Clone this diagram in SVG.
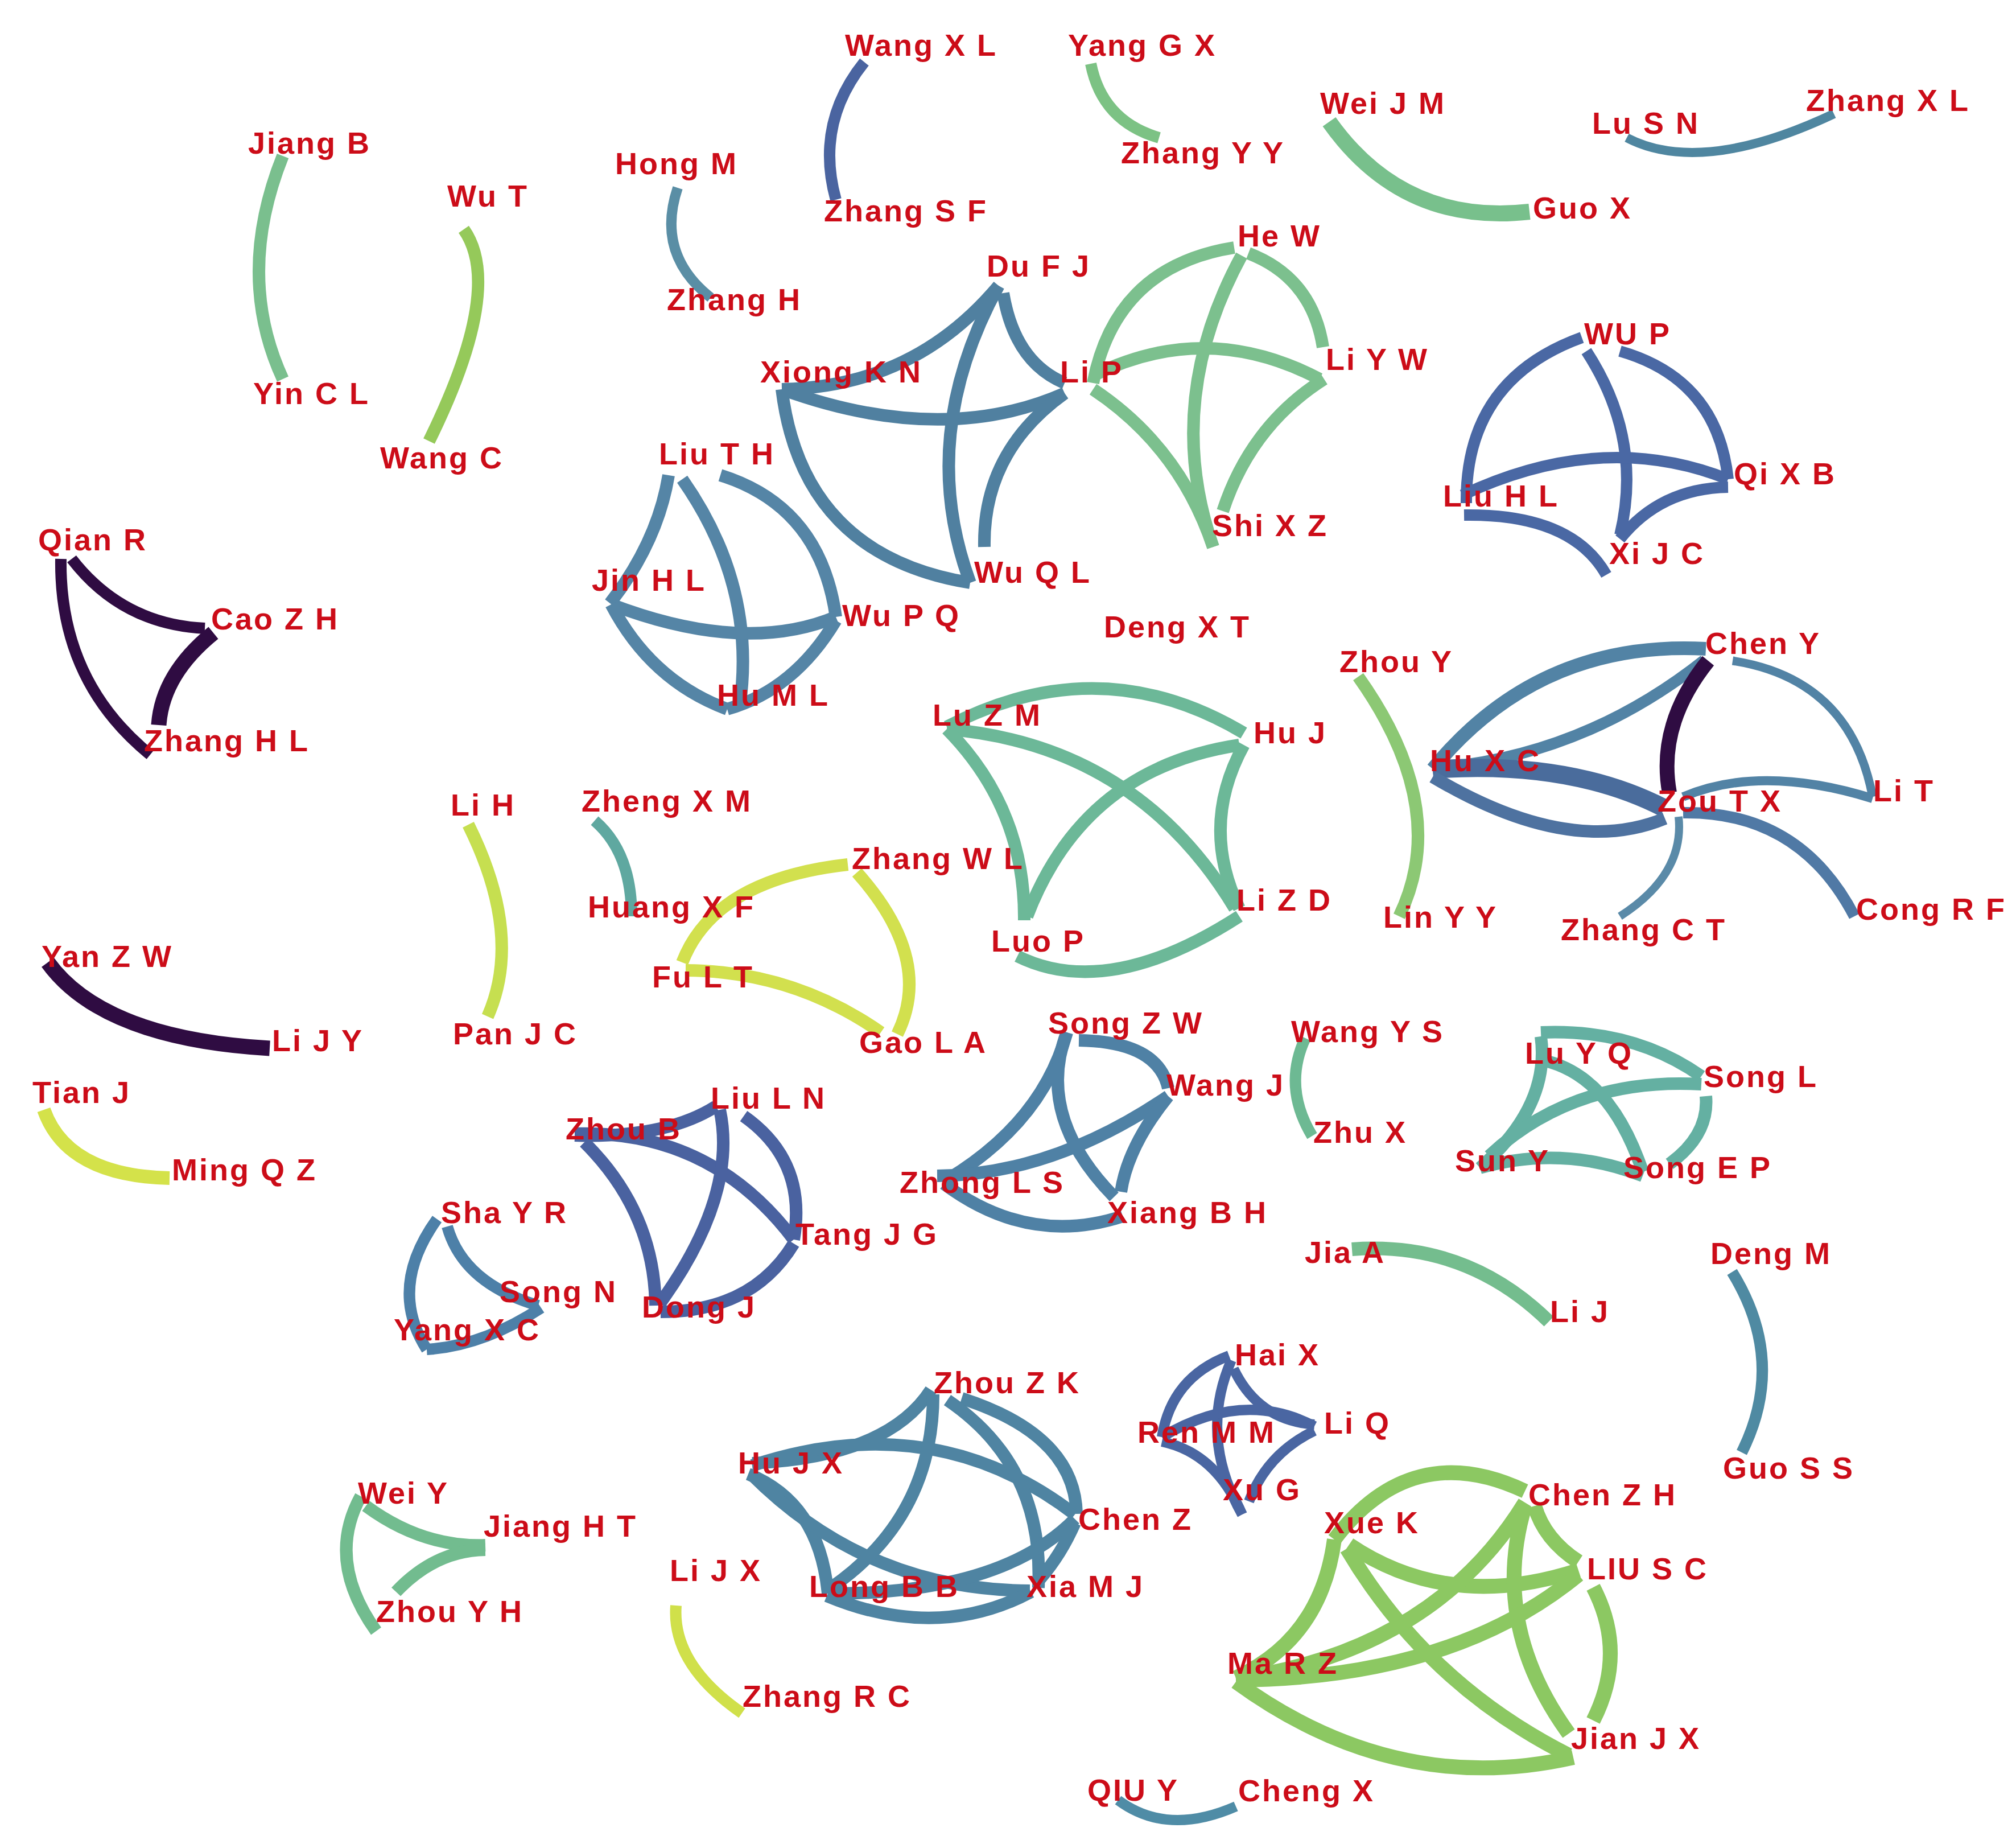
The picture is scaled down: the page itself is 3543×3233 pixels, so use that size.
<svg xmlns="http://www.w3.org/2000/svg" width="3543" height="3233" viewBox="0 0 3543 3233">
<style>
.e path{fill:none;stroke-linecap:butt;stroke-width:22}
.t{font-family:"Liberation Sans",Arial,sans-serif;font-weight:bold;font-size:54px;fill:#cc0c18;letter-spacing:3px}
</style>
<rect width="3543" height="3233" fill="#ffffff"/>
<g id="edges" class="e">
 <g stroke="#7abf8e"><path d="M497,274 Q413,484 497,666"/></g>
 <g stroke="#95c95a"><path d="M815,403 Q887,505 754,775"/></g>
 <g stroke="#5a8ea5"><path d="M1191,330 Q1152,446 1249,523" style="stroke-width:18"/></g>
 <g stroke="#4a64a0"><path d="M1519,109 Q1432,217 1469,351" style="stroke-width:20"/></g>
 <g stroke="#7cc284"><path d="M1917,112 Q1937,213 2037,242" style="stroke-width:20"/></g>
 <g stroke="#78c08c"><path d="M2336,214 Q2466,397 2688,372" style="stroke-width:28"/></g>
 <g stroke="#4f86a0"><path d="M2859,242 Q2990,310 3223,200" style="stroke-width:16"/></g>
 <g stroke="#2f0c42">
  <path d="M126,982 Q215,1097 360,1104" style="stroke-width:20"/>
  <path d="M107,982 Q104,1196 264,1326" style="stroke-width:20"/>
  <path d="M375,1112 Q285,1185 279,1274" style="stroke-width:27"/>
  <path d="M84,1691 Q181,1825 474,1842" style="stroke-width:27"/>
 </g>
 <g stroke="#c6df50"><path d="M823,1449 Q920,1644 857,1786"/></g>
 <g stroke="#5fa8a0"><path d="M1045,1442 Q1110,1498 1110,1610" style="stroke-width:20"/></g>
 <g stroke="#d4e24a"><path d="M77,1950 Q118,2066 298,2070" style="stroke-width:24"/></g>
 <g stroke="#8cc874"><path d="M2387,1189 Q2551,1420 2459,1610"/></g>
 <g stroke="#6db993"><path d="M2294,1824 Q2254,1910 2306,1996" style="stroke-width:20"/></g>
 <g stroke="#74bd8e"><path d="M2376,2195 Q2577,2180 2722,2322" style="stroke-width:24"/></g>
 <g stroke="#4f8aa2"><path d="M3044,2235 Q3141,2392 3061,2552" style="stroke-width:20"/></g>
 <g stroke="#d0e04a"><path d="M1188,2821 Q1180,2924 1304,3010" style="stroke-width:20"/></g>
 <g stroke="#4f8ca6"><path d="M1965,3163 Q2051,3227 2172,3174" style="stroke-width:18"/></g>
 <g stroke="#5080a0">
  <path d="M1755,502 Q1606,680 1374,684"/>
  <path d="M1374,684 Q1655,786 1871,691"/>
  <path d="M1374,684 Q1410,976 1705,1024"/>
  <path d="M1755,502 Q1610,767 1705,1024"/>
  <path d="M1763,515 Q1783,636 1871,673"/>
  <path d="M1871,691 Q1727,794 1730,961"/>
 </g>
 <g stroke="#7cc08e">
  <path d="M2169,435 Q1961,468 1921,673"/>
  <path d="M2194,445 Q2306,488 2325,610"/>
  <path d="M2182,449 Q2043,705 2132,961"/>
  <path d="M1921,660 Q2120,561 2319,666"/>
  <path d="M1921,684 Q2073,785 2132,961"/>
  <path d="M2327,666 Q2198,748 2149,898"/>
 </g>
 <g stroke="#4a68a4">
  <path d="M2780,593 Q2575,667 2577,884" style="stroke-width:20"/>
  <path d="M2847,617 Q3018,666 3037,842" style="stroke-width:20"/>
  <path d="M2788,617 Q2888,771 2847,940" style="stroke-width:20"/>
  <path d="M2570,870 Q2816,754 3037,842" style="stroke-width:20"/>
  <path d="M2573,905 Q2762,902 2823,1010" style="stroke-width:20"/>
  <path d="M2847,947 Q2918,858 3037,856" style="stroke-width:20"/>
 </g>
 <g stroke="#5585a6">
  <path d="M1175,835 Q1156,952 1072,1060"/>
  <path d="M1199,842 Q1330,1029 1300,1240"/>
  <path d="M1266,835 Q1442,890 1469,1084"/>
  <path d="M1074,1062 Q1308,1151 1469,1084"/>
  <path d="M1074,1062 Q1144,1196 1278,1246"/>
  <path d="M1278,1246 Q1396,1212 1469,1090"/>
 </g>
 <g stroke="#6cb898">
  <path d="M1664,1277 Q1933,1137 2186,1288"/>
  <path d="M1664,1281 Q1997,1309 2170,1596"/>
  <path d="M1664,1281 Q1802,1421 1800,1617"/>
  <path d="M2178,1309 Q1904,1350 1805,1610"/>
  <path d="M2186,1309 Q2108,1451 2178,1596"/>
  <path d="M1788,1680 Q1947,1759 2178,1610"/>
 </g>
 <g stroke="#d2e04e">
  <path d="M1490,1519 Q1255,1545 1199,1691"/>
  <path d="M1506,1533 Q1642,1685 1577,1817"/>
  <path d="M1205,1705 Q1393,1706 1548,1814"/>
 </g>
 <g stroke="#4f81a5">
  <path d="M1896,1828 Q2035,1830 2053,1912"/>
  <path d="M1875,1814 Q1832,1972 1664,2073"/>
  <path d="M1875,1814 Q1819,1961 1958,2103"/>
  <path d="M2053,1926 Q1850,2064 1647,2066"/>
  <path d="M2053,1926 Q1982,2014 1970,2094"/>
  <path d="M1659,2080 Q1808,2191 1973,2137"/>
 </g>
 <g stroke="#5283a5">
  <path d="M2518,1351 Q2704,1124 2998,1140" style="stroke-width:24"/>
  <path d="M2518,1350 Q2780,1330 2995,1160" style="stroke-width:20"/>
  <path d="M3045,1161 Q3252,1193 3291,1400" style="stroke-width:15"/>
  <path d="M2958,1400 Q3095,1342 3291,1403" style="stroke-width:16"/>
 </g>
 <g stroke="#4a6c9c"><path d="M2518,1352 Q2760,1335 2925,1420" style="stroke-width:32"/></g>
 <g stroke="#4e72a0"><path d="M2518,1365 Q2758,1508 2926,1438"/></g>
 <g stroke="#2f0c42"><path d="M3002,1161 Q2912,1273 2934,1393" style="stroke-width:26"/></g>
 <g stroke="#5a8aa8"><path d="M2950,1435 Q2961,1537 2847,1610" style="stroke-width:14"/></g>
 <g stroke="#5079a5"><path d="M2958,1428 Q3163,1425 3259,1610" style="stroke-width:20"/></g>
 <g stroke="#64b0a2">
  <path d="M2708,1814 Q2871,1807 2990,1891"/>
  <path d="M2708,1821 Q2725,1943 2601,2052"/>
  <path d="M2712,1863 Q2830,1889 2887,2059"/>
  <path d="M2617,2031 Q2766,1892 2990,1905"/>
  <path d="M2998,1926 Q3004,1994 2934,2045"/>
  <path d="M2601,2052 Q2746,2011 2887,2066"/>
 </g>
 <g stroke="#4a62a0">
  <path d="M1010,1995 Q1170,2000 1258,1944"/>
  <path d="M1010,1992 Q1249,1985 1395,2178"/>
  <path d="M1027,2007 Q1150,2129 1152,2294"/>
  <path d="M1307,1961 Q1419,2040 1395,2178"/>
  <path d="M1265,1950 Q1297,2100 1160,2290"/>
  <path d="M1395,2185 Q1322,2305 1161,2305"/>
 </g>
 <g stroke="#4d80a8">
  <path d="M768,2142 Q681,2263 750,2371" style="stroke-width:20"/>
  <path d="M786,2155 Q814,2255 946,2294" style="stroke-width:20"/>
  <path d="M951,2298 Q849,2365 750,2371" style="stroke-width:20"/>
 </g>
 <g stroke="#72bc8f">
  <path d="M634,2629 Q572,2742 661,2866"/>
  <path d="M643,2646 Q742,2719 853,2715"/>
  <path d="M853,2723 Q765,2724 696,2797"/>
 </g>
 <g stroke="#4a66a2">
  <path d="M2160,2382 Q2059,2420 2042,2525" style="stroke-width:18"/>
  <path d="M2168,2405 Q2211,2496 2310,2503" style="stroke-width:18"/>
  <path d="M2164,2390 Q2106,2524 2183,2661" style="stroke-width:18"/>
  <path d="M2042,2525 Q2184,2440 2310,2506" style="stroke-width:18"/>
  <path d="M2042,2533 Q2137,2553 2183,2661" style="stroke-width:18"/>
  <path d="M2310,2514 Q2227,2554 2195,2638" style="stroke-width:18"/>
 </g>
 <g stroke="#4f84a2">
  <path d="M1322,2571 Q1560,2560 1636,2442"/>
  <path d="M1322,2575 Q1640,2470 1889,2661"/>
  <path d="M1315,2590 Q1440,2640 1455,2800"/>
  <path d="M1320,2590 Q1523,2794 1810,2795"/>
  <path d="M1640,2450 Q1640,2666 1460,2790"/>
  <path d="M1690,2457 Q1889,2521 1892,2660"/>
  <path d="M1665,2460 Q1835,2575 1825,2790"/>
  <path d="M1460,2800 Q1760,2800 1889,2669"/>
  <path d="M1453,2804 Q1647,2885 1812,2797"/>
  <path d="M1889,2676 Q1865,2731 1828,2774"/>
 </g>
 <g stroke="#8cc862">
  <path d="M2680,2620 Q2481,2526 2345,2705" style="stroke-width:26"/>
  <path d="M2345,2705 Q2322,2879 2172,2948" style="stroke-width:26"/>
  <path d="M2371,2714 Q2547,2833 2774,2759" style="stroke-width:26"/>
  <path d="M2367,2721 Q2508,2959 2757,3084" style="stroke-width:26"/>
  <path d="M2697,2646 Q2714,2705 2774,2744" style="stroke-width:26"/>
  <path d="M2680,2640 Q2520,2900 2172,2950" style="stroke-width:26"/>
  <path d="M2680,2646 Q2618,2854 2757,3046" style="stroke-width:26"/>
  <path d="M2774,2767 Q2553,2949 2172,2952" style="stroke-width:26"/>
  <path d="M2800,2789 Q2860,2904 2800,3023" style="stroke-width:26"/>
  <path d="M2172,2955 Q2452,3159 2765,3088" style="stroke-width:26"/>
 </g>
</g>
<g id="nodes" class="t">
 <g id="n-jiang-b"><text x="436" y="270">Jiang B</text></g>
 <g id="n-yin-c-l"><text x="445" y="710">Yin C L</text></g>
 <g id="n-wu-t"><text x="786" y="363">Wu T</text></g>
 <g id="n-wang-c"><text x="668" y="823">Wang C</text></g>
 <g id="n-hong-m"><text x="1081" y="306">Hong M</text></g>
 <g id="n-zhang-h"><text x="1172" y="545">Zhang H</text></g>
 <g id="n-wang-x-l"><text x="1485" y="98">Wang X L</text></g>
 <g id="n-zhang-s-f"><text x="1448" y="389">Zhang S F</text></g>
 <g id="n-yang-g-x"><text x="1877" y="98">Yang G X</text></g>
 <g id="n-zhang-y-y"><text x="1970" y="287">Zhang Y Y</text></g>
 <g id="n-wei-j-m"><text x="2320" y="200">Wei J M</text></g>
 <g id="n-guo-x"><text x="2694" y="384">Guo X</text></g>
 <g id="n-lu-s-n"><text x="2798" y="235">Lu S N</text></g>
 <g id="n-zhang-x-l"><text x="3174" y="195">Zhang X L</text></g>
 <g id="n-du-f-j"><text x="1734" y="486">Du F J</text></g>
 <g id="n-xiong-k-n"><text x="1336" y="672">Xiong K N</text></g>
 <g id="n-li-p"><text x="1863" y="672">Li P</text></g>
 <g id="n-he-w"><text x="2175" y="433">He W</text></g>
 <g id="n-li-y-w"><text x="2330" y="650">Li Y W</text></g>
 <g id="n-shi-x-z"><text x="2130" y="942">Shi X Z</text></g>
 <g id="n-wu-p"><text x="2784" y="605">WU P</text></g>
 <g id="n-qi-x-b"><text x="3047" y="851">Qi X B</text></g>
 <g id="n-liu-h-l"><text x="2536" y="890">Liu H L</text></g>
 <g id="n-xi-j-c"><text x="2828" y="991">Xi J C</text></g>
 <g id="n-liu-t-h"><text x="1158" y="816">Liu T H</text></g>
 <g id="n-jin-h-l"><text x="1040" y="1038">Jin H L</text></g>
 <g id="n-wu-p-q"><text x="1480" y="1100">Wu P Q</text></g>
 <g id="n-hu-m-l"><text x="1260" y="1240">Hu M L</text></g>
 <g id="n-wu-q-l"><text x="1712" y="1024">Wu Q L</text></g>
 <g id="n-deng-x-t"><text x="1940" y="1120">Deng X T</text></g>
 <g id="n-qian-r"><text x="67" y="967">Qian R</text></g>
 <g id="n-cao-z-h"><text x="371" y="1106">Cao Z H</text></g>
 <g id="n-zhang-h-l"><text x="253" y="1320">Zhang H L</text></g>
 <g id="n-zhou-y"><text x="2354" y="1181">Zhou Y</text></g>
 <g id="n-lin-y-y"><text x="2431" y="1630">Lin Y Y</text></g>
 <g id="n-chen-y"><text x="2997" y="1149">Chen Y</text></g>
 <g id="n-hu-x-c"><text x="2513" y="1355">Hu X C</text></g>
 <g id="n-zou-t-x"><text x="2913" y="1426">Zou T X</text></g>
 <g id="n-li-t"><text x="3292" y="1408">Li T</text></g>
 <g id="n-zhang-c-t"><text x="2743" y="1652">Zhang C T</text></g>
 <g id="n-cong-r-f"><text x="3262" y="1616">Cong R F</text></g>
 <g id="n-lu-z-m"><text x="1639" y="1275">Lu Z M</text></g>
 <g id="n-hu-j"><text x="2203" y="1306">Hu J</text></g>
 <g id="n-li-z-d"><text x="2173" y="1600">Li Z D</text></g>
 <g id="n-luo-p"><text x="1742" y="1672">Luo P</text></g>
 <g id="n-li-h"><text x="792" y="1433">Li H</text></g>
 <g id="n-pan-j-c"><text x="796" y="1835">Pan J C</text></g>
 <g id="n-zheng-x-m"><text x="1022" y="1426">Zheng X M</text></g>
 <g id="n-huang-x-f"><text x="1033" y="1612">Huang X F</text></g>
 <g id="n-zhang-w-l"><text x="1497" y="1527">Zhang W L</text></g>
 <g id="n-fu-l-t"><text x="1146" y="1735">Fu L T</text></g>
 <g id="n-gao-l-a"><text x="1510" y="1850">Gao L A</text></g>
 <g id="n-yan-z-w"><text x="73" y="1699">Yan Z W</text></g>
 <g id="n-li-j-y"><text x="478" y="1847">Li J Y</text></g>
 <g id="n-tian-j"><text x="57" y="1938">Tian J</text></g>
 <g id="n-ming-q-z"><text x="302" y="2074">Ming Q Z</text></g>
 <g id="n-song-z-w"><text x="1842" y="1816">Song Z W</text></g>
 <g id="n-wang-j"><text x="2050" y="1925">Wang J</text></g>
 <g id="n-zhong-l-s"><text x="1581" y="2096">Zhong L S</text></g>
 <g id="n-xiang-b-h"><text x="1946" y="2149">Xiang B H</text></g>
 <g id="n-wang-y-s"><text x="2269" y="1831">Wang Y S</text></g>
 <g id="n-zhu-x"><text x="2308" y="2008">Zhu X</text></g>
 <g id="n-lu-y-q"><text x="2680" y="1869">Lu Y Q</text></g>
 <g id="n-song-l"><text x="2994" y="1910">Song L</text></g>
 <g id="n-sun-y"><text x="2557" y="2058">Sun Y</text></g>
 <g id="n-song-e-p"><text x="2853" y="2070">Song E P</text></g>
 <g id="n-zhou-b"><text x="994" y="2002">Zhou B</text></g>
 <g id="n-liu-l-n"><text x="1249" y="1948">Liu L N</text></g>
 <g id="n-tang-j-g"><text x="1398" y="2187">Tang J G</text></g>
 <g id="n-dong-j"><text x="1128" y="2315">Dong J</text></g>
 <g id="n-sha-y-r"><text x="775" y="2149">Sha Y R</text></g>
 <g id="n-song-n"><text x="878" y="2288">Song N</text></g>
 <g id="n-yang-x-c"><text x="692" y="2355">Yang X C</text></g>
 <g id="n-jia-a"><text x="2293" y="2219">Jia A</text></g>
 <g id="n-li-j"><text x="2724" y="2323">Li J</text></g>
 <g id="n-deng-m"><text x="3006" y="2221">Deng M</text></g>
 <g id="n-guo-s-s"><text x="3028" y="2598">Guo S S</text></g>
 <g id="n-hai-x"><text x="2170" y="2399">Hai X</text></g>
 <g id="n-ren-m-m"><text x="1999" y="2535">Ren M M</text></g>
 <g id="n-li-q"><text x="2327" y="2519">Li Q</text></g>
 <g id="n-xu-g"><text x="2149" y="2636">Xu G</text></g>
 <g id="n-zhou-z-k"><text x="1641" y="2448">Zhou Z K</text></g>
 <g id="n-hu-j-x"><text x="1297" y="2589">Hu J X</text></g>
 <g id="n-chen-z"><text x="1895" y="2688">Chen Z</text></g>
 <g id="n-long-b-b"><text x="1422" y="2806">Long B B</text></g>
 <g id="n-xia-m-j"><text x="1804" y="2806">Xia M J</text></g>
 <g id="n-chen-z-h"><text x="2686" y="2645">Chen Z H</text></g>
 <g id="n-xue-k"><text x="2327" y="2694">Xue K</text></g>
 <g id="n-liu-s-c"><text x="2789" y="2775">LIU S C</text></g>
 <g id="n-ma-r-z"><text x="2157" y="2941">Ma R Z</text></g>
 <g id="n-jian-j-x"><text x="2761" y="3073">Jian J X</text></g>
 <g id="n-wei-y"><text x="629" y="2642">Wei Y</text></g>
 <g id="n-jiang-h-t"><text x="850" y="2700">Jiang H T</text></g>
 <g id="n-zhou-y-h"><text x="661" y="2850">Zhou Y H</text></g>
 <g id="n-li-j-x"><text x="1177" y="2778">Li J X</text></g>
 <g id="n-zhang-r-c"><text x="1305" y="2999">Zhang R C</text></g>
 <g id="n-qiu-y"><text x="1911" y="3164">QIU Y</text></g>
 <g id="n-cheng-x"><text x="2176" y="3165">Cheng X</text></g>
</g>
</svg>
